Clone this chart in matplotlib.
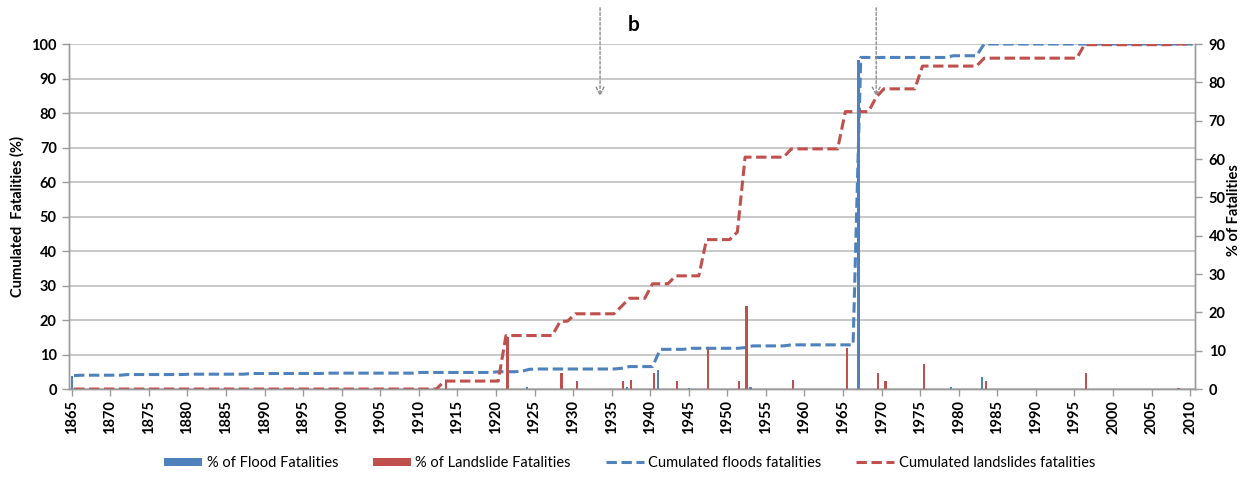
import numpy as np
import matplotlib
matplotlib.use('Agg')
import matplotlib.pyplot as plt

plt.rcParams['font.family'] = ['Lato', 'DejaVu Sans']

# years on the category axis
years = np.arange(1865, 2011)

# cumulated fatalities (%), left axis
flood_cum = [
    3.9, 4.0, 4.0, 4.0, 4.0, 4.0, 4.0, 4.2, 4.2, 4.2,
    4.2, 4.2, 4.2, 4.2, 4.2, 4.3, 4.3, 4.3, 4.3, 4.3,
    4.3, 4.3, 4.3, 4.5, 4.5, 4.5, 4.5, 4.5, 4.5, 4.5,
    4.5, 4.5, 4.5, 4.6, 4.6, 4.6, 4.6, 4.6, 4.6, 4.6,
    4.6, 4.6, 4.6, 4.6, 4.6, 4.8, 4.8, 4.8, 4.8, 4.8,
    4.8, 4.8, 4.8, 4.8, 4.8, 5.0, 5.0, 5.0, 5.1, 5.7,
    5.8, 5.8, 5.8, 5.8, 5.8, 5.8, 5.8, 5.8, 5.8, 5.8,
    5.8, 6.0, 6.5, 6.5, 6.5, 6.5, 11.5, 11.5, 11.5, 11.5,
    11.8, 11.8, 11.8, 11.8, 11.8, 11.8, 11.8, 12.0, 12.5, 12.5,
    12.5, 12.5, 12.5, 12.8, 12.8, 12.8, 12.8, 12.8, 12.8, 12.8,
    12.8, 12.8, 96.1, 96.1, 96.1, 96.1, 96.1, 96.1, 96.1, 96.1,
    96.1, 96.1, 96.1, 96.1, 96.6, 96.6, 96.6, 96.6, 100, 100,
    100, 100, 100, 100, 100, 100, 100, 100, 100, 100,
    100, 100, 100, 100, 100, 100, 100, 100, 100, 100,
    100, 100, 100, 100, 100, 100,
]
landslide_cum = [
    0, 0, 0, 0, 0, 0, 0, 0, 0, 0,
    0, 0, 0, 0, 0, 0, 0, 0, 0, 0,
    0, 0, 0, 0, 0, 0, 0, 0, 0, 0,
    0, 0, 0, 0, 0, 0, 0, 0, 0, 0,
    0, 0, 0, 0, 0, 0, 0, 0, 2.3, 2.3,
    2.3, 2.3, 2.3, 2.3, 2.3, 2.3, 15.5, 15.5, 15.5, 15.5,
    15.5, 15.5, 15.5, 19.5, 19.7, 21.8, 21.8, 21.8, 21.8, 21.8,
    21.8, 24.0, 26.3, 26.3, 26.3, 30.5, 30.5, 30.5, 32.8, 32.8,
    32.8, 32.8, 43.3, 43.3, 43.3, 43.3, 45.5, 67.2, 67.2, 67.2,
    67.2, 67.2, 67.2, 69.6, 69.6, 69.6, 69.6, 69.6, 69.6, 69.6,
    80.4, 80.4, 80.4, 80.4, 84.6, 87.0, 87.0, 87.0, 87.0, 87.0,
    93.6, 93.6, 93.6, 93.6, 93.6, 93.6, 93.6, 93.6, 95.9, 95.9,
    95.9, 95.9, 95.9, 95.9, 95.9, 95.9, 95.9, 95.9, 95.9, 95.9,
    95.9, 99.8, 99.8, 99.8, 99.8, 99.8, 99.8, 99.8, 99.8, 99.8,
    99.8, 99.8, 99.8, 100, 100, 100,
]

# yearly % of fatalities, right axis
flood_years = [1865, 1924, 1937, 1941, 1945, 1953, 1967, 1979, 1983]
flood_pct = [3.5, 0.5, 0.6, 5.0, 0.3, 0.4, 85.8, 0.4, 3.2]
slide_years = [1913, 1921, 1928, 1930, 1936, 1937, 1940, 1943, 1947, 1951,
               1952, 1958, 1965, 1969, 1970, 1975, 1983, 1996, 2008]
slide_pct = [2.0, 13.6, 4.3, 2.2, 2.2, 2.3, 4.3, 2.2, 10.4, 2.2,
             21.7, 2.3, 10.6, 4.3, 2.1, 6.4, 2.1, 4.3, 0.3]

left_ticks = list(range(0, 101, 10))
right_ticks = list(range(0, 91, 10))
x_ticks = list(range(1865, 2011, 5))

BLUE = '#4F81BD'
RED = '#C0504D'
GRID = '#BFBFBF'
AXC = '#9A9A9A'

fig = plt.figure(figsize=(12.42, 4.83), dpi=100)
ax = fig.add_axes([0.0558, 0.1946, 0.9063, 0.7143])
ax2 = ax.twinx()

ax.plot(years + 0.3, flood_cum, color=BLUE, lw=2.2, dashes=(3.4, 1.5),
        label='Cumulated floods fatalities', zorder=3)
ax.plot(years + 0.3, landslide_cum, color=RED, lw=2.2, dashes=(3.4, 1.5),
        label='Cumulated landslides fatalities', zorder=3)

ax2.bar(flood_years, flood_pct, width=0.3, color=BLUE,
        label='% of Flood Fatalities')
ax2.bar(np.array(slide_years) + 0.5, slide_pct, width=0.3, color=RED,
        label='% of Landslide Fatalities')

ax.set_xlim(1864.69, 2010.62)
ax.set_ylim(0, 100)
ax2.set_ylim(0, 90)
ax.set_yticks(left_ticks)
ax2.set_yticks(right_ticks)
ax.set_xticks(x_ticks)
ax.set_xticklabels([str(y) for y in x_ticks], rotation=90)

ax.grid(axis='y', color=GRID, lw=1.2)
ax.set_axisbelow(True)

for a in (ax, ax2):
    a.spines['top'].set_visible(False)
    for s in ('left', 'right', 'bottom'):
        a.spines[s].set_color(AXC)
        a.spines[s].set_linewidth(1.0)
    a.tick_params(colors=AXC, labelcolor='black', length=5, width=1,
                  labelsize=10.5)
for lab in ax.get_xticklabels() + ax.get_yticklabels() + ax2.get_yticklabels():
    lab.set_fontweight('bold')
ax.tick_params(axis='y', pad=4)
ax2.tick_params(axis='y', pad=5)
ax.tick_params(axis='x', pad=3)

ax.set_ylabel('Cumulated  Fatalities (%)', fontsize=10.5, fontweight='bold')
ax.yaxis.set_label_coords(-0.040, 0.5)
# right label kept tight against the right edge
fig.text(1241 / 1242, 0.565, '% of Fatalities', rotation=90, ha='right',
         va='center', fontsize=10.5, fontweight='bold')

# marker arrows and panel letter
for xa in (1933.5, 1969.3):
    ax.annotate('', xy=(xa, 0.84), xycoords=('data', 'axes fraction'),
                xytext=(xa, 1.113), textcoords=('data', 'axes fraction'),
                arrowprops=dict(arrowstyle='->', color='#8C8C8C', lw=1.0,
                                linestyle=(0, (2, 1.5)), mutation_scale=14),
                annotation_clip=False)
ax.text(1937.9, 1.055, 'b', transform=ax.get_xaxis_transform(),
        fontsize=15, fontweight='bold', ha='center', va='center')

h1, l1 = ax2.get_legend_handles_labels()
h2, l2 = ax.get_legend_handles_labels()
fig.legend(h1 + h2, l1 + l2, loc='center', bbox_to_anchor=(0.507, 0.041),
           ncol=4, frameon=False, fontsize=10.5, handlelength=2.6,
           handleheight=0.55, handletextpad=0.3, columnspacing=2.4)

fig.savefig('out.png', dpi=100)
